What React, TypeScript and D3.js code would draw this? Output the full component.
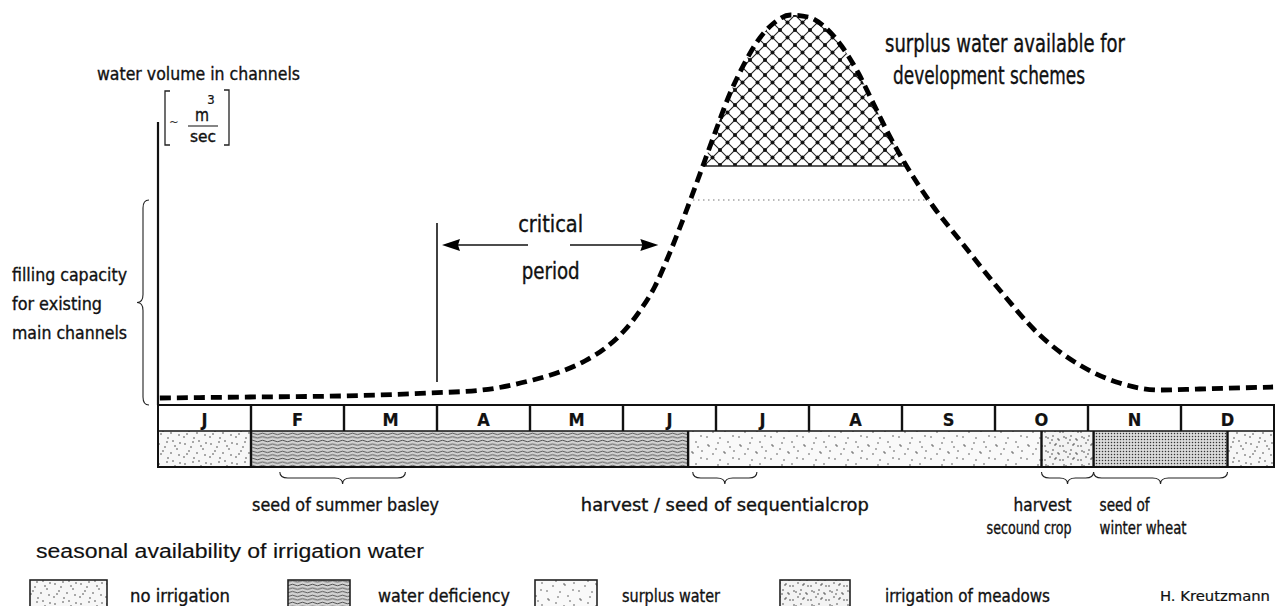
import * as d3 from 'd3'

const MONTHS = ['J', 'F', 'M', 'A', 'M', 'J', 'J', 'A', 'S', 'O', 'N', 'D']

// water volume in channels: position in months (0 = start of Jan) and relative volume
const FLOW_MONTH = [0.02, 0.99, 1.96, 2.92, 3.49, 4.03, 4.32, 4.59, 4.81, 5.02, 5.18, 5.34, 5.48, 5.61, 5.74, 5.87, 6.0, 6.13, 6.28, 6.44, 6.61, 6.8, 6.99, 7.17, 7.35, 7.53, 7.69, 7.85, 8.01, 8.17, 8.34, 8.62, 9.05, 9.48, 9.91, 10.34, 10.77, 11.2, 11.99]
const FLOW_VALUE = [1.75, 2, 2.25, 3, 3.75, 6.25, 8.25, 11, 14.25, 18.75, 23.5, 29.5, 36.75, 44.25, 52.25, 60.5, 68.75, 76.75, 84.25, 90.75, 95.25, 97.5, 97, 94.5, 89.75, 83, 75.5, 68, 61.25, 55.25, 49.5, 41.25, 28.75, 17.5, 10, 5.5, 3.75, 4, 4.5]

const CAPACITY = 51.25 // filling capacity of existing main channels
const SURPLUS_LEVEL = 59.75 // above this: surplus for development schemes
const CRITICAL = [3, 5.38]

// seasonal availability of irrigation water
const SEG_FROM = [0, 1, 5.7, 9.5, 10.06, 11.5]
const SEG_TO = [1, 5.7, 9.5, 10.06, 11.5, 12]
const SEG_KIND = ['none', 'deficiency', 'surplus', 'meadows', 'deficiencyDots', 'none']

const LEGEND_KIND = ['none', 'deficiency', 'surplus', 'meadows']
const LEGEND_LABEL = ['no irrigation', 'water deficiency', 'surplus water', 'irrigation of meadows']

// crop calendar notes
const NOTE_FROM = [1.31, 5.75, 9.5, 10.06]
const NOTE_TO = [2.66, 6.44, 10.06, 11.5]
const NOTE_TEXT = [['seed of summer basley'], ['harvest / seed of sequentialcrop'], ['harvest', 'secound crop'], ['seed of', 'winter wheat']]

const COND = "'Liberation Sans Narrow','DejaVu Sans Condensed','Arial Narrow','Liberation Sans',sans-serif"
const REG = "'Liberation Sans',Arial,sans-serif"

const T = ({ x, y, w, size = 18.5, anchor = 'start', weight = 'normal', family = COND, heavy = 0.35, children }: any) => (
  <text
    x={x}
    y={y}
    fontSize={size}
    fontFamily={family}
    fontWeight={weight}
    textAnchor={anchor}
    textLength={w}
    lengthAdjust="spacingAndGlyphs"
    fill="#111"
    stroke="#111"
    strokeWidth={heavy}
  >
    {children}
  </text>
)

const hBrace = (x1: number, x2: number, y: number, d: number) => {
  const m = (x1 + x2) / 2
  const h = d / 2
  const r = Math.min(8, (x2 - x1) / 4)
  return `M${x1},${y} Q${x1},${y + h} ${x1 + r},${y + h} L${m - r},${y + h} Q${m},${y + h} ${m},${y + d} Q${m},${y + h} ${m + r},${y + h} L${x2 - r},${y + h} Q${x2},${y + h} ${x2},${y}`
}

const vBrace = (x: number, y1: number, y2: number, d: number) => {
  const m = (y1 + y2) / 2
  const h = d / 2
  const r = 8
  return `M${x},${y1} Q${x - h},${y1} ${x - h},${y1 + r} L${x - h},${m - r} Q${x - h},${m} ${x - d},${m} Q${x - h},${m} ${x - h},${m + r} L${x - h},${y2 - r} Q${x - h},${y2} ${x},${y2}`
}

export default function App() {
  const width = 1277
  const height = 606
  const x = d3.scaleLinear().domain([0, 12]).range([158, 1274])
  const y = d3.scaleLinear().domain([0, 100]).range([405, 5])

  const monthTop = 405
  const monthBottom = 431
  const texBottom = 467

  const pts: [number, number][] = FLOW_MONTH.map((m, i) => [m, FLOW_VALUE[i]])
  const line = d3
    .line<[number, number]>()
    .x((d) => x(d[0]))
    .y((d) => y(d[1]))
    .curve(d3.curveMonotoneX)
  const under = d3
    .area<[number, number]>()
    .x((d) => x(d[0]))
    .y0(y(0))
    .y1((d) => y(d[1]))
    .curve(d3.curveMonotoneX)

  const capY = y(CAPACITY)
  const surY = y(SURPLUS_LEVEL)
  const c0 = x(CRITICAL[0])
  const c1 = x(CRITICAL[1])
  const arrowY = 245

  const patFill: any = {
    none: 'url(#pNone)',
    deficiency: 'url(#pDef)',
    surplus: 'url(#pSur)',
    meadows: 'url(#pMea)',
    deficiencyDots: 'url(#pDots)',
  }

  const legendX = [30, 288, 535, 780]
  const legendTextX = [130, 378, 622, 885]
  const legendTextW = [100, 132, 98, 165]

  return (
    <svg width={width} height={height} style={{ position: 'absolute', left: 0, top: 0, background: '#fff' }}>
      <defs>
        <pattern id="pNone" width="26" height="20" patternUnits="userSpaceOnUse">
          <rect width="26" height="20" fill="#f7f7f7" />
          {[[3, 4], [11, 2], [19, 6], [7, 11], [15, 13], [23, 15], [2, 17], [12, 18], [21, 9], [9, 7], [17, 1], [24, 3], [5, 14]].map((p, i) => (
            <circle key={i} cx={p[0]} cy={p[1]} r="0.75" fill="#333" />
          ))}
        </pattern>
        <pattern id="pSur" width="32" height="22" patternUnits="userSpaceOnUse">
          <rect width="32" height="22" fill="#f9f9f9" />
          {[[4, 5], [5, 6], [14, 3], [26, 7], [9, 14], [20, 12], [21, 13], [29, 18], [3, 19], [16, 20], [24, 2], [12, 9], [30, 11]].map((p, i) => (
            <circle key={i} cx={p[0]} cy={p[1]} r="0.75" fill="#444" />
          ))}
        </pattern>
        <pattern id="pMea" width="18" height="14" patternUnits="userSpaceOnUse">
          <rect width="18" height="14" fill="#f3f3f3" />
          {[[2, 3], [4, 4], [9, 2], [14, 5], [15, 6], [6, 9], [11, 11], [12, 10], [16, 12], [1, 12], [8, 6]].map((p, i) => (
            <circle key={i} cx={p[0]} cy={p[1]} r="0.75" fill="#333" />
          ))}
        </pattern>
        <pattern id="pDef" width="10" height="3.6" patternUnits="userSpaceOnUse">
          <rect width="10" height="3.6" fill="#d2d2d2" />
          <path d="M0,1.8 q2.5,-1.4 5,0 t5,0" fill="none" stroke="#333" strokeWidth="0.8" />
        </pattern>
        <pattern id="pDots" width="3" height="3" patternUnits="userSpaceOnUse">
          <rect width="3" height="3" fill="#dadada" />
          <circle cx="1.5" cy="1.5" r="0.75" fill="#333" />
        </pattern>
        <pattern id="pHatch" width="15" height="15" patternUnits="userSpaceOnUse">
          <path d="M0,0 L15,15 M15,0 L0,15" stroke="#222" strokeWidth="1.1" />
          <circle cx="0" cy="0" r="2" fill="#111" />
          <circle cx="15" cy="0" r="2" fill="#111" />
          <circle cx="0" cy="15" r="2" fill="#111" />
          <circle cx="15" cy="15" r="2" fill="#111" />
          <circle cx="7.5" cy="7.5" r="2" fill="#111" />
        </pattern>
        <clipPath id="underCurve">
          <path d={under(pts) || ''} />
        </clipPath>
        <mask id="outsideCurve">
          <rect width={width} height={height} fill="#fff" />
          <path d={under(pts) || ''} fill="#000" />
        </mask>
      </defs>

      {/* y axis and its label */}
      <T x={97} y={80} w={203}>water volume in channels</T>
      <path d="M170,91 L165,91 L165,145 L170,145" fill="none" stroke="#222" strokeWidth="1.3" />
      <path d="M224,90 L229,90 L229,145 L224,145" fill="none" stroke="#222" strokeWidth="1.3" />
      <text x={169} y={126} fontSize={13} fontFamily={COND} fill="#333">~</text>
      <T x={202} y={121} size={17} anchor="middle" w={14}>m</T>
      <T x={211} y={104} size={13} anchor="middle" heavy={0.2}>3</T>
      <line x1={188} x2={218} y1={126} y2={126} stroke="#222" strokeWidth="1.1" />
      <T x={203} y={142} size={16} anchor="middle" w={26}>sec</T>
      <line x1={158} x2={158} y1={122} y2={monthTop} stroke="#111" strokeWidth="2.2" />

      {/* capacity brace */}
      <path d={vBrace(149, capY, monthTop, 12)} fill="none" stroke="#222" strokeWidth="1.1" />
      <T x={12} y={281} w={115}>filling capacity</T>
      <T x={12} y={310} w={90}>for existing</T>
      <T x={12} y={339} w={115}>main channels</T>

      {/* surplus above surplus level */}
      <rect x={x(0)} y={0} width={x(12) - x(0)} height={surY} fill="url(#pHatch)" clipPath="url(#underCurve)" />
      <line x1={x(0)} x2={x(12)} y1={surY} y2={surY} stroke="#222" strokeWidth="1.3" clipPath="url(#underCurve)" />

      {/* capacity line */}
      <line x1={x(0)} x2={x(12)} y1={capY} y2={capY} stroke="#111" strokeWidth="1.4" strokeDasharray="27 12" mask="url(#outsideCurve)" />
      <line x1={x(0)} x2={x(12)} y1={capY} y2={capY} stroke="#777" strokeWidth="1" strokeDasharray="1.5 3.5" clipPath="url(#underCurve)" />

      {/* water volume curve */}
      <path d={line(pts) || ''} fill="none" stroke="#000" strokeWidth="4.8" strokeDasharray="11 6" />

      {/* critical period */}
      <line x1={c0} x2={c0} y1={223} y2={382} stroke="#111" strokeWidth="1.6" />
      <line x1={c0 + 14} x2={528} y1={arrowY} y2={arrowY} stroke="#111" strokeWidth="1.5" />
      <path d={`M${c0 + 5},${arrowY} L${c0 + 23},${arrowY - 6} L${c0 + 21},${arrowY} L${c0 + 23},${arrowY + 6} Z`} fill="#000" />
      <line x1={570} x2={c1 - 12} y1={arrowY} y2={arrowY} stroke="#111" strokeWidth="1.5" />
      <path d={`M${c1},${arrowY} L${c1 - 18},${arrowY - 6} L${c1 - 16},${arrowY} L${c1 - 18},${arrowY + 6} Z`} fill="#000" />
      <T x={(c0 + c1) / 2 + 3} y={232} w={65} size={23} anchor="middle">critical</T>
      <T x={(c0 + c1) / 2 + 3} y={279} w={58} size={23} anchor="middle">period</T>

      <T x={885} y={52} w={240} size={24}>surplus water available for</T>
      <T x={893} y={84} w={192} size={24}>development schemes</T>

      {/* month row */}
      <rect x={x(0)} y={monthTop} width={x(12) - x(0)} height={texBottom - monthTop} fill="#fff" />
      {MONTHS.map((m, i) => (
        <T key={i} x={(x(i) + x(i + 1)) / 2} y={monthTop + 21} size={18} weight="bold" anchor="middle" heavy={0.2}>
          {m}
        </T>
      ))}
      {d3.range(1, 12).map((i) => (
        <line key={i} x1={x(i)} x2={x(i)} y1={monthTop} y2={monthBottom} stroke="#111" strokeWidth="2.4" />
      ))}

      {/* irrigation availability row */}
      {SEG_FROM.map((s, i) => (
        <rect key={i} x={x(s)} y={monthBottom} width={x(SEG_TO[i]) - x(s)} height={texBottom - monthBottom} fill={patFill[SEG_KIND[i]]} />
      ))}
      {SEG_FROM.slice(1).map((s, i) => (
        <line key={i} x1={x(s)} x2={x(s)} y1={monthBottom} y2={texBottom} stroke="#111" strokeWidth="2.4" />
      ))}
      <line x1={x(0)} x2={x(12)} y1={monthBottom} y2={monthBottom} stroke="#111" strokeWidth="1.6" />
      <rect x={x(0)} y={monthTop} width={x(12) - x(0)} height={texBottom - monthTop} fill="none" stroke="#111" strokeWidth="2" />

      {/* crop notes */}
      {NOTE_FROM.map((s, i) => (
        <path key={i} d={hBrace(x(s), x(NOTE_TO[i]), 472, 12)} fill="none" stroke="#222" strokeWidth="1.1" />
      ))}
      <T x={(x(NOTE_FROM[0]) + x(NOTE_TO[0])) / 2 + 3} y={511} w={187} anchor="middle">{NOTE_TEXT[0][0]}</T>
      <T x={(x(NOTE_FROM[1]) + x(NOTE_TO[1])) / 2} y={511} w={288} anchor="middle">{NOTE_TEXT[1][0]}</T>
      <T x={x(NOTE_TO[2]) - 22} y={511} w={58} anchor="end">{NOTE_TEXT[2][0]}</T>
      <T x={x(NOTE_TO[2]) - 22} y={534} w={85} anchor="end">{NOTE_TEXT[2][1]}</T>
      <T x={x(NOTE_FROM[3]) + 6} y={511} w={50}>{NOTE_TEXT[3][0]}</T>
      <T x={x(NOTE_FROM[3]) + 6} y={534} w={87}>{NOTE_TEXT[3][1]}</T>

      {/* legend */}
      <T x={36} y={558} w={388} size={20} family={REG} heavy={0.15}>seasonal availability of irrigation water</T>
      {LEGEND_KIND.map((k, i) => (
        <g key={k}>
          <rect x={legendX[i]} y={580} width={i === 0 ? 77 : i === 3 ? 70 : 62} height={30} fill={patFill[k]} stroke="#222" strokeWidth="1.6" />
          <T x={legendTextX[i]} y={602} w={legendTextW[i]}>{LEGEND_LABEL[i]}</T>
        </g>
      ))}
      <T x={1160} y={601} w={110} size={14} heavy={0.2}>H. Kreutzmann</T>
    </svg>
  )
}
